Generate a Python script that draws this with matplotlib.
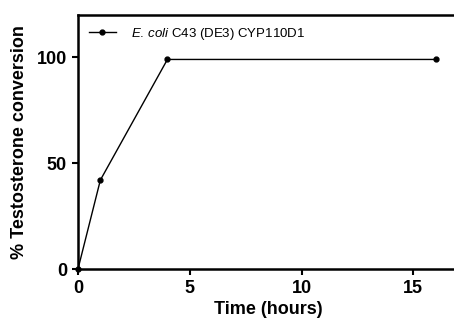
import matplotlib.pyplot as plt

plt.rcParams['font.family'] = ['Liberation Sans', 'DejaVu Sans']
plt.rcParams['mathtext.fontset'] = 'custom'
plt.rcParams['mathtext.it'] = 'Liberation Sans:italic'
plt.rcParams['mathtext.rm'] = 'Liberation Sans'

# data
time_h = [0, 1, 4, 16]
conversion = [0, 42, 99, 99]
series_label = r'$\mathit{E.\,coli}$ C43 (DE3) CYP110D1'

fig = plt.figure(figsize=(4.54, 3.22), dpi=100)
ax = fig.add_axes([78/454, 53/322, 380/454, 254/322])

ax.plot(time_h, conversion, 'k-', marker='o', markersize=3.5, linewidth=1.0,
        label=series_label, clip_on=False)

ax.set_xlim(0, 17)
ax.set_ylim(0, 120)
ax.set_xticks([0, 5, 10, 15])
ax.set_yticks([0, 50, 100])
for s in ax.spines.values():
    s.set_linewidth(1.8)
ax.tick_params(direction='out', length=4, width=1.5, labelsize=13, pad=4)
for t in ax.get_xticklabels() + ax.get_yticklabels():
    t.set_fontweight('bold')

ax.set_xlabel('Time (hours)', fontsize=13, fontweight='bold', labelpad=3)
ax.set_ylabel('% Testosterone conversion', fontsize=13, fontweight='bold', labelpad=6)

ax.legend(loc='upper left', frameon=False, fontsize=9.5, handlelength=2.1,
          handletextpad=1.1, borderaxespad=0.4, bbox_to_anchor=(0.0, 1.0))

fig.savefig('out.png', dpi=100)
